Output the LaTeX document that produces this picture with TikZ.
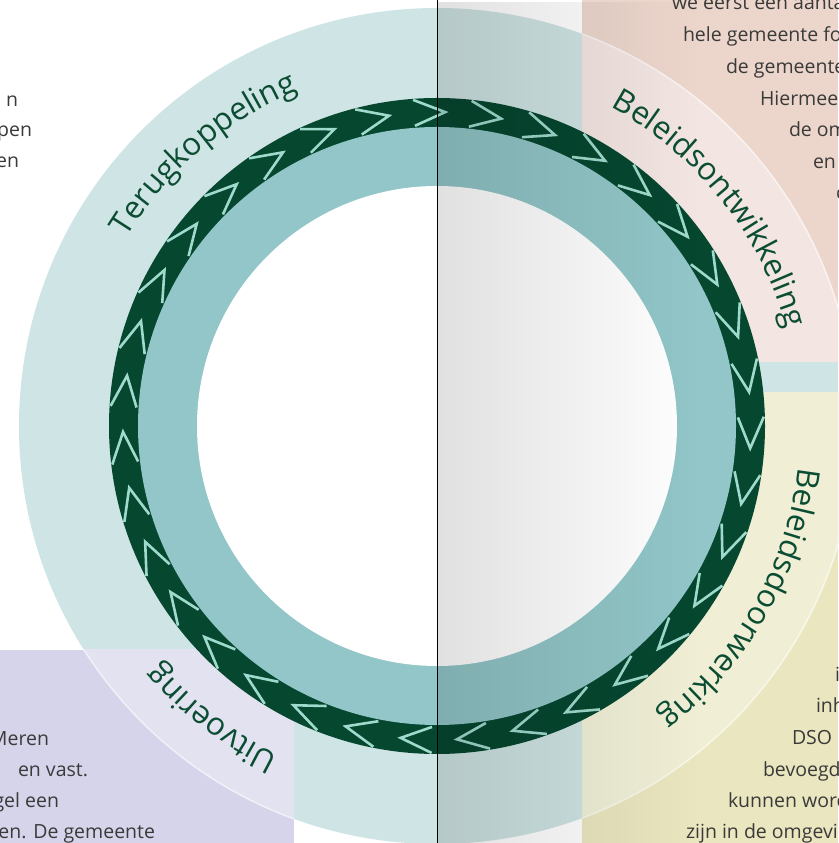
\documentclass[tikz,border=0pt]{standalone}
\usepackage{fontspec}
\setmainfont{Open Sans}
\usetikzlibrary{decorations.text,fadings}
\definecolor{ringteal}{HTML}{CFE4E4}
\definecolor{medteal}{HTML}{92C6C8}
\definecolor{darkgreen}{HTML}{064730}
\definecolor{chevcol}{HTML}{A0DACD}
\definecolor{peach}{HTML}{ECD6CC}
\definecolor{peachtint}{HTML}{F3E5E1}
\definecolor{yellowbg}{HTML}{EAE6BF}
\definecolor{yellowtint}{HTML}{F0EFD6}
\definecolor{lavender}{HTML}{D6D4EA}
\definecolor{lavtint}{HTML}{E2E2F0}
\definecolor{labelgreen}{HTML}{0B4D33}
\definecolor{bodygray}{HTML}{3A3A3A}
\tikzfading[name=grayfade, left color=transparent!88, right color=transparent!100]
\newcommand\lblfont{\fontsize{31.5}{38}\selectfont\color{labelgreen}}
\tikzset{
  chevron/.style={draw=chevcol, line width=2.6pt, line cap=butt, line join=miter},
  bodytext/.style={font=\fontsize{19.5}{24}\selectfont, text=bodygray, inner sep=0pt, outer sep=0pt},
  ringlabel/.style={decorate, decoration={text along path, text align=center, text={|\lblfont|#1}}}
}
\begin{document}
\begin{tikzpicture}[x=1pt,y=1pt]
\useasboundingbox (0,0) rectangle (838,843);
\clip (0,0) rectangle (838,843);
\fill[white] (0,0) rectangle (838,843);
\coordinate (C) at (437,417);
% outer ring
\fill[ringteal] (C) circle[radius=418];
% coloured panels
\fill[peach] (582,481) rectangle (838,843);
\fill[yellowbg] (582,0) rectangle (838,450);
\fill[lavender] (0,0) rectangle (294,193);
\begin{scope}
  \clip (582,481) rectangle (838,843);
  \fill[peachtint] (C) circle[radius=418];
  \draw[white, opacity=.6, line width=1.5pt] (C) circle[radius=418];
\end{scope}
\begin{scope}
  \clip (582,0) rectangle (838,450);
  \fill[yellowtint] (C) circle[radius=418];
  \draw[white, opacity=.6, line width=1.5pt] (C) circle[radius=418];
\end{scope}
\begin{scope}
  \clip (0,0) rectangle (294,193);
  \fill[lavtint] (C) circle[radius=418];
  \draw[white, opacity=.6, line width=1.5pt] (C) circle[radius=418];
\end{scope}
% inner rings
\fill[darkgreen] (C) circle[radius=328];
\fill[medteal] (C) circle[radius=299];
\fill[white] (C) circle[radius=240];
% chevrons
\begin{scope}[shift={(437,417)}]
  \foreach \k in {0,...,34}{
    \pgfmathsetmacro\a{88.5-\k*360/35}
    \draw[chevron] ({\a+5.7}:327) -- (\a:314) -- ({\a+5.7}:301);
  }
\end{scope}
% grey gradient on the right half
\fill[black, path fading=grayfade] (437,0) rectangle (700,843);
\draw[black, line width=0.9pt] (437,0) -- (437,843);
% ring labels
\begin{scope}[shift={(437,417)}]
  \path[ringlabel=Terugkoppeling] (170.6:363) arc[start angle=170.6, end angle=90.6, radius=363];
  \path[ringlabel=Beleidsontwikkeling] (78.5:363) arc[start angle=78.5, end angle=-1.5, radius=363];
  \path[ringlabel=Beleidsdoorwerking] (10.5:364) arc[start angle=10.5, end angle=-69.5, radius=364];
  \path[ringlabel=Uitvoering] (-87.6:365) arc[start angle=-87.6, end angle=-167.6, radius=365];
\end{scope}
% body text fragments
\node[bodytext, anchor=base east] (tl1) at (18,736) {n};
\node[bodytext, anchor=base east] (tl2) at (32,706) {pen};
\node[bodytext, anchor=base east] (tl3) at (19,675) {en};
\node[bodytext, anchor=base west] (tr1) at (672,833) {we eerst een aanta};
\node[bodytext, anchor=base west] (tr2) at (683,801) {hele gemeente fo};
\node[bodytext, anchor=base west] (tr3) at (726,769) {de gemeente};
\node[bodytext, anchor=base west] (tr4) at (760,737) {Hiermee};
\node[bodytext, anchor=base west] (tr5) at (789,706) {de om};
\node[bodytext, anchor=base west] (tr6) at (813,674) {en};
\node[bodytext, anchor=base west] (tr7) at (836,643) {c};
\node[bodytext, anchor=base west] (br1) at (835,161) {i};
\node[bodytext, anchor=base west] (br2) at (816,130) {inh};
\node[bodytext, anchor=base west] (br3) at (792,98) {DSO};
\node[bodytext, anchor=base west] (br4) at (763,66) {bevoegd};
\node[bodytext, anchor=base west] (br5) at (728,35) {kunnen word};
\node[bodytext, anchor=base west] (br6) at (686,5) {zijn in de omgevi};
\node[bodytext, anchor=base east] (bl1) at (49,97) {Meren};
\node[bodytext, anchor=base east] (bl2) at (88,66) {en vast.};
\node[bodytext, anchor=base east] (bl3) at (59,35) {gel een};
\node[bodytext, anchor=base east] (bl4) at (155,5) {en. De gemeente};
\end{tikzpicture}
\end{document}
